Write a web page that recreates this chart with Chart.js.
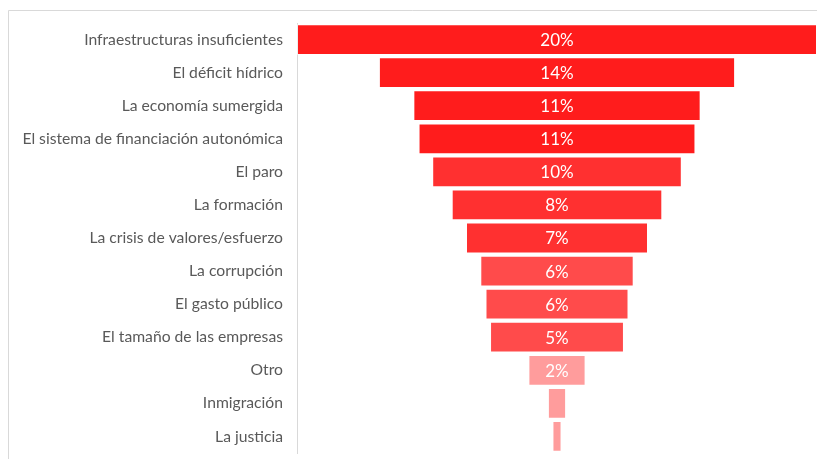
<!DOCTYPE html>
<html>
<head>
<meta charset="utf-8">
<script src="https://cdn.jsdelivr.net/npm/chart.js@4"></script>
<style>
html,body{margin:0;padding:0;background:#fff;}
#wrap{position:relative;width:817px;height:459px;}
</style>
</head>
<body>
<div id="wrap"><canvas id="c" width="817" height="459"></canvas></div>
<script>
const categories = [
  "Infraestructuras insuficientes",
  "El déficit hídrico",
  "La economía sumergida",
  "El sistema de financiación autonómica",
  "El paro",
  "La formación",
  "La crisis de valores/esfuerzo",
  "La corrupción",
  "El gasto público",
  "El tamaño de las empresas",
  "Otro",
  "Inmigración",
  "La justicia"
];
const values = [20.0, 13.7, 11.05, 10.65, 9.6, 8.1, 7.0, 5.9, 5.5, 5.15, 2.2, 0.7, 0.35];
const valueLabels = ["20%", "14%", "11%", "11%", "10%", "8%", "7%", "6%", "6%", "5%", "2%", "", ""];

const maxVal = Math.max(...values);
const floating = values.map(v => [-v / 2, v / 2]);
const barColors = values.map((v, i) => i < 4 ? '#FF1C1C' : i < 7 ? '#FF3030' : i < 10 ? '#FF4B4B' : '#FF9C9C');

const framePlugin = {
  id: 'frame',
  beforeDraw(chart) {
    const ctx = chart.ctx;
    ctx.save();
    ctx.fillStyle = '#fff';
    ctx.fillRect(0, 0, chart.width, chart.height);
    ctx.strokeStyle = '#d9d9d9';
    ctx.lineWidth = 1;
    ctx.beginPath();
    ctx.moveTo(8.5, chart.height);
    ctx.lineTo(8.5, 10.5);
    ctx.lineTo(chart.width, 10.5);
    ctx.stroke();
    ctx.restore();
  }
};

const labelPlugin = {
  id: 'vlabels',
  afterDatasetsDraw(chart) {
    const ctx = chart.ctx;
    const meta = chart.getDatasetMeta(0);
    ctx.save();
    ctx.fillStyle = '#ffffff';
    ctx.font = '17px Lato';
    ctx.textAlign = 'center';
    ctx.textBaseline = 'middle';
    meta.data.forEach((el, i) => {
      const t = valueLabels[i];
      if (!t) return;
      const p = el.getProps(['x', 'base', 'y'], true);
      ctx.fillText(t, (p.x + p.base) / 2, p.y + 1);
    });
    ctx.restore();
  }
};

new Chart(document.getElementById('c'), {
  type: 'bar',
  data: {
    labels: categories,
    datasets: [{
      data: floating,
      backgroundColor: barColors,
      borderColor: 'rgba(255,255,255,0.55)',
      borderWidth: 1,
      borderSkipped: false,
      barPercentage: 0.93,
      categoryPercentage: 1.0
    }]
  },
  options: {
    indexAxis: 'y',
    responsive: false,
    animation: false,
    layout: { padding: { top: 23, bottom: 6, left: 0, right: 0 } },
    plugins: { legend: { display: false }, tooltip: { enabled: false } },
    scales: {
      x: {
        min: -maxVal / 2,
        max: maxVal / 2,
        display: false
      },
      y: {
        grid: { display: true, drawOnChartArea: false, drawTicks: true, tickLength: 14, tickColor: 'rgba(0,0,0,0)', color: 'rgba(0,0,0,0)' },
        border: { display: true, color: '#d9d9d9', width: 1 },
        ticks: {
          color: '#595959',
          font: { family: 'Lato', size: 15.7, lineHeight: 0.7 },
          padding: 0
        },
        afterFit(scale) { scale.width = 297; }
      }
    }
  },
  plugins: [framePlugin, labelPlugin]
});
</script>
</body>
</html>
